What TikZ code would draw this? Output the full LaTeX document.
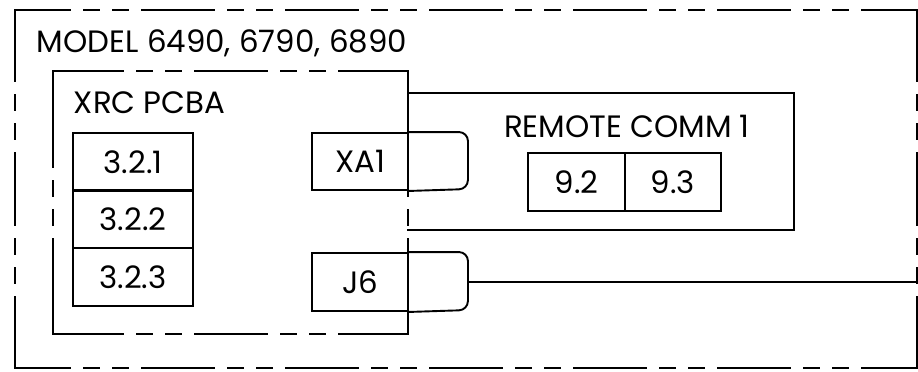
\documentclass[tikz,border=0pt]{standalone}
\usepackage{fontspec}
\setmainfont{Poppins}
\usetikzlibrary{calc}
\begin{document}
\begin{tikzpicture}[x=1bp,y=-1bp, line width=1.9bp,
  lbl/.style={font=\fontsize{31}{35}\selectfont, inner sep=0pt},
  cell/.style={draw, lbl, minimum height=58bp},
  phantom/.style={line cap=rect, dash pattern=on 72bp off 14bp on 15bp off 14bp on 15bp off 14bp},
  phantomv/.style={line cap=rect, dash pattern=on 96bp off 14bp on 15bp off 14bp on 15bp off 14bp}]
\useasboundingbox (0,0) rectangle (918,371);
% outer model boundary
\coordinate (otl) at (15,10);
\coordinate (otr) at (917,10);
\coordinate (obl) at (15,368);
\coordinate (obr) at (917,368);
\draw[phantom, dash phase=17bp] (otl) -- (otr);
\draw[phantom, dash phase=17bp] (obl) -- (obr);
\draw[phantom, dash phase=1bp] (otl) -- (obl);
\draw[phantom, dash phase=1bp] (otr) -- (obr);
\node[lbl, anchor=base west] (model) at (36,52) {MODEL 6490, 6790, 6890};
% XRC PCBA boundary
\coordinate (xtl) at (53,71);
\coordinate (xtr) at (408,71);
\coordinate (xbl) at (53,334);
\coordinate (xbr) at (408,334);
\draw[phantom, dash phase=2bp] (xtl) -- (xtr);
\draw[phantom, dash phase=2bp] (xbl) -- (xbr);
\draw[phantomv] (xtl) -- (xbl);
\draw[phantomv] (xtr) -- (xbr);
\node[lbl, anchor=base west] (xrc) at (73,113) {XRC PCBA};
% cells
\node[cell, minimum width=120bp] (c321) at (133,162) {3.2.1};
\node[cell, minimum width=120bp] (c322) at (133,219) {3.2.2};
\node[cell, minimum width=120bp] (c323) at (133,277) {3.2.3};
% remote comm
\node[minimum width=385bp, minimum height=135bp, inner sep=0pt] (remote) at (600.5,161.5) {};
\draw (remote.north west) -- (remote.north east) -- (remote.south east) -- (remote.south west);
\node[lbl, anchor=base] (remlbl) at (627,137) {REMOTE COMM 1};
\node[cell, minimum width=97bp] (c92) at (576.5,182) {9.2};
\node[cell, minimum width=96bp] (c93) at (673,182) {9.3};
% connectors
\node[cell, minimum width=96bp, minimum height=57bp] (xa1) at (360,161.5) {XA1};
\draw[rounded corners=9bp] (xa1.north east) -- ++(59,0) -- ++(0,57) -- (xa1.south east);
\node[cell, minimum width=96bp] (j6) at (360,282) {J6};
\draw[rounded corners=9bp] (j6.north east) -- ++(59,0) -- ++(0,58) -- (j6.south east);
\coordinate (j6ext) at ($(j6.east)+(59,0)$);
\coordinate (j6out) at (917,282);
\draw (j6ext) -- (j6out);
\end{tikzpicture}
\end{document}
